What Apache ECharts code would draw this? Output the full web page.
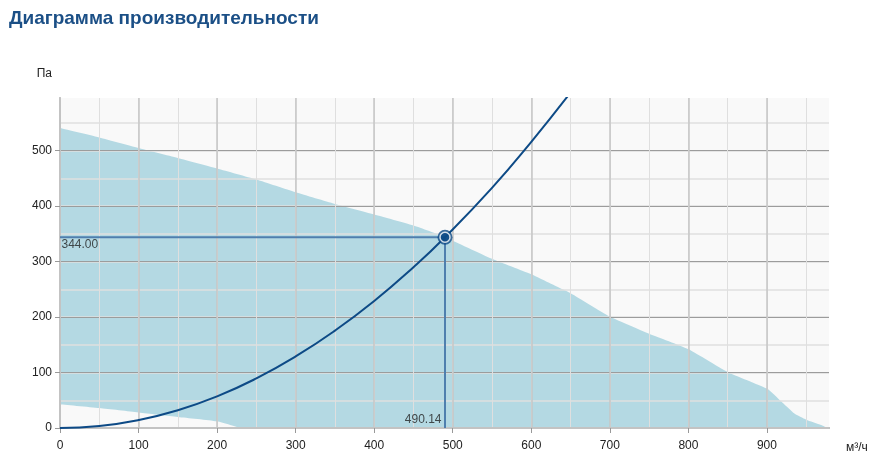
<!DOCTYPE html>
<html>
<head>
<meta charset="utf-8">
<script src="https://cdn.jsdelivr.net/npm/echarts@6/dist/echarts.min.js"></script>
<style>
html,body{margin:0;padding:0;background:#fff;}
#chart{width:881px;height:469px;}
</style>
</head>
<body>
<div id="chart"></div>
<script>
// ---- data ----
const titleText = 'Диаграмма производительности';
const yName = 'Па';
const xName = 'м³/ч';

// fan performance envelope: upper boundary (m³/h, Pa)
const upperX = [0, 50, 100, 150, 200, 250, 300, 350, 400, 450, 490.14, 550, 600, 625, 650, 700, 750, 800, 850, 900, 910, 921, 935, 950, 968, 978];
const upperP = [541, 524, 505, 487, 468, 448, 425, 404, 385, 365, 344, 305, 277, 260, 243, 201, 170, 142, 101, 71, 59, 44, 26, 15, 6, 0];

// lower boundary of the envelope
const lowerX = [0, 50, 100, 150, 200, 229];
const lowerP = [43, 36, 28, 20, 12, 0];

// system curve
const sysX = [0, 50, 100, 150, 200, 250, 300, 350, 400, 450, 490.14, 550, 600, 650];
const sysP = [0, 3.6, 14.3, 32, 57, 89.5, 129, 175.5, 229, 290, 344, 433, 516, 605];

// operating point
const opFlow = 490.14;
const opPressure = 344.00;

// axis ranges
const xMax = 979;
const yMax = 595;

// ---- build ----
const zip = (xs, ys) => xs.map((x, i) => [x, ys[i]]);
const FONT = '"Liberation Sans", Arial, sans-serif';
const AX_Z = 1.5;

const chart = echarts.init(document.getElementById('chart'), null, {renderer: 'canvas'});

const hidden = {show: false};
const baseX = {type: 'value', min: 0, max: xMax, z: AX_Z};
const baseY = {type: 'value', min: 0, max: yMax, z: AX_Z};

chart.setOption({
  animation: false,
  backgroundColor: '#ffffff',
  title: {
    text: titleText,
    left: 4,
    top: 4,
    textStyle: {fontFamily: FONT, fontSize: 19, fontWeight: 'bold', color: '#1b4f86'}
  },
  grid: {
    left: 60, top: 98, right: 52, bottom: 41,
    show: true, backgroundColor: '#f9f9f9', borderWidth: 0
  },
  xAxis: [
    Object.assign({}, baseX, {
      position: 'bottom', interval: 50,
      axisLine: hidden, axisTick: hidden, axisLabel: hidden,
      splitLine: {show: true, showMinLine: false, showMaxLine: false, lineStyle: {color: '#dfdfdf', width: 1}}
    }),
    Object.assign({}, baseX, {
      position: 'bottom', interval: 100,
      name: xName, nameLocation: 'end', nameGap: 17,
      nameTextStyle: {fontFamily: FONT, fontSize: 12, color: '#222', verticalAlign: 'top', padding: [14, 0, 0, 0]},
      axisLine: {show: true, lineStyle: {color: '#aaaaaa', width: 2}},
      axisTick: {show: true, length: 5, lineStyle: {color: '#999999'}},
      axisLabel: {show: true, margin: 12, showMaxLabel: false, fontFamily: FONT, fontSize: 12, color: '#222'},
      splitLine: {show: true, showMinLine: false, showMaxLine: false, lineStyle: {color: '#c6c6c6', width: 1.5}}
    }),
    Object.assign({}, baseX, {
      position: 'top',
      axisLine: {show: true, lineStyle: {color: '#c3c3c3', width: 2}},
      axisTick: hidden, axisLabel: hidden, splitLine: hidden
    })
  ],
  yAxis: [
    Object.assign({}, baseY, {
      position: 'left', interval: 50,
      axisLine: hidden, axisTick: hidden, axisLabel: hidden,
      splitLine: {show: true, showMinLine: false, showMaxLine: false, lineStyle: {color: '#dfdfdf', width: 1.5}}
    }),
    Object.assign({}, baseY, {
      position: 'left', interval: 100,
      name: yName, nameLocation: 'end', nameGap: 18,
      nameTextStyle: {fontFamily: FONT, fontSize: 12, color: '#222', align: 'right', verticalAlign: 'bottom', padding: [0, 8, 0, 0]},
      axisLine: {show: true, lineStyle: {color: '#c3c3c3', width: 2}},
      axisTick: {show: true, length: 5, lineStyle: {color: '#999999'}},
      axisLabel: {show: true, margin: 8, showMaxLabel: false, fontFamily: FONT, fontSize: 12, color: '#222'},
      splitLine: {show: true, showMinLine: false, showMaxLine: false, lineStyle: {color: '#9c9c9c', width: 1.2}}
    }),
    Object.assign({}, baseY, {
      position: 'right',
      axisLine: {show: true, lineStyle: {color: '#c3c3c3', width: 2}},
      axisTick: hidden, axisLabel: hidden, splitLine: hidden
    })
  ],
  series: [
    {
      type: 'line', name: 'envelope', z: 1,
      xAxisIndex: 0, yAxisIndex: 0,
      data: zip(upperX, upperP),
      smooth: 0.2, symbol: 'none',
      lineStyle: {width: 0},
      areaStyle: {color: '#b4d9e3', opacity: 1, origin: 'start'}
    },
    {
      type: 'line', name: 'envelopeLow', z: 1.2,
      xAxisIndex: 0, yAxisIndex: 0,
      data: zip(lowerX, lowerP),
      smooth: 0.2, symbol: 'none',
      lineStyle: {width: 0},
      areaStyle: {color: '#f9f9f9', opacity: 1, origin: 'start'}
    },
    {
      type: 'line', name: 'guides', z: 3,
      xAxisIndex: 0, yAxisIndex: 0,
      data: [[0, opPressure], [opFlow, opPressure], [opFlow, 0]],
      symbol: 'none',
      lineStyle: {color: '#4f7fae', width: 2}
    },
    {
      type: 'line', name: 'system', z: 4,
      xAxisIndex: 0, yAxisIndex: 0,
      data: zip(sysX, sysP),
      smooth: true, symbol: 'none', clip: true,
      lineStyle: {color: '#0d4a86', width: 2}
    },
    {
      type: 'scatter', name: 'labels', z: 5,
      xAxisIndex: 0, yAxisIndex: 0,
      symbolSize: 1,
      itemStyle: {color: 'rgba(0,0,0,0)'},
      data: [
        {value: [0, opPressure], label: {show: true, position: [2, 2], formatter: opPressure.toFixed(2)}},
        {value: [opFlow, 0], label: {show: true, position: 'left', distance: 3, offset: [0, -8], formatter: opFlow.toFixed(2)}}
      ],
      label: {fontFamily: FONT, fontSize: 12, color: '#222'}
    },
    {
      type: 'scatter', name: 'opOuter', z: 6,
      xAxisIndex: 0, yAxisIndex: 0,
      symbolSize: 15,
      itemStyle: {color: '#0d4a86'},
      data: [[opFlow, opPressure]]
    },
    {
      type: 'scatter', name: 'opInner', z: 7,
      xAxisIndex: 0, yAxisIndex: 0,
      symbolSize: 10,
      itemStyle: {color: '#0d4a86', borderColor: '#ffffff', borderWidth: 1.5},
      data: [[opFlow, opPressure]]
    }
  ]
});
</script>
</body>
</html>
